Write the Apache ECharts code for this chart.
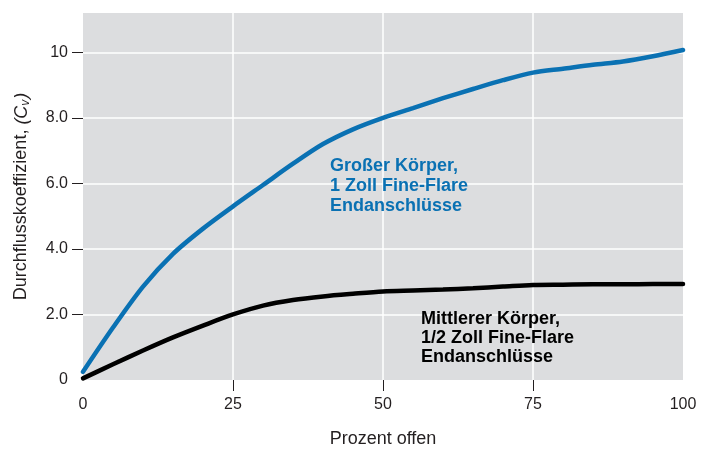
<!DOCTYPE html>
<html>
<head>
<meta charset="utf-8">
<script src="https://cdn.jsdelivr.net/npm/echarts@6/dist/echarts.min.js"></script>
<style>
html,body{margin:0;padding:0;background:#fff;}
#c{width:711px;height:449px;}
</style>
</head>
<body>
<div id="c"></div>
<script>
const percentOpen = [0, 5, 10, 15, 20, 25, 30, 35, 40, 45, 50, 55, 60, 65, 70, 75, 80, 85, 90, 95, 100];
const largeBodyCv = [0.25, 1.6, 2.85, 3.85, 4.62, 5.3, 5.95, 6.6, 7.2, 7.65, 8.0, 8.3, 8.6, 8.88, 9.15, 9.38, 9.5, 9.62, 9.72, 9.88, 10.07];
const mediumBodyCv = [0.05, 0.48, 0.9, 1.3, 1.66, 2.0, 2.27, 2.44, 2.55, 2.63, 2.7, 2.73, 2.76, 2.8, 2.85, 2.9, 2.91, 2.92, 2.92, 2.93, 2.93];
const xTickLabels = [0, 25, 50, 75, 100];
const yTickLabels = [0, 2, 4, 6, 8, 10];
const largeLabel = ['Großer Körper,', '1 Zoll Fine-Flare', 'Endanschlüsse'];
const mediumLabel = ['Mittlerer Körper,', '1/2 Zoll Fine-Flare', 'Endanschlüsse'];

const BLUE = '#0a71b3';
const FONT = '"Liberation Sans", Arial, Helvetica, sans-serif';
const chart = echarts.init(document.getElementById('c'));

chart.setOption({
  animation: false,
  textStyle: { fontFamily: FONT },
  grid: {
    left: 83, right: 28, top: 13, bottom: 69,
    outerBoundsMode: 'none', containLabel: false,
    show: true, backgroundColor: '#dcdddf', borderWidth: 0
  },
  xAxis: {
    type: 'value', min: 0, max: 100, interval: 25,
    name: 'Prozent offen', nameLocation: 'middle', nameGap: 50,
    nameTextStyle: { fontSize: 18, color: '#231f20', fontFamily: FONT },
    axisLine: { show: false },
    axisTick: { show: true, length: 11, inside: false, customValues: [25, 50, 75], lineStyle: { color: '#231f20', width: 1 } },
    axisLabel: { customValues: xTickLabels, fontSize: 16, color: '#231f20', margin: 17, fontFamily: FONT },
    splitLine: { show: true, lineStyle: { color: '#ffffff', width: 1.5 } }
  },
  yAxis: {
    type: 'value', min: 0, max: 11.2, interval: 2,
    name: '{n|Durchflusskoeffizient, }{i|(C}{s|v}{i|)}',
    nameLocation: 'middle', nameGap: 51, nameRotate: 90,
    nameTextStyle: {
      fontSize: 18, color: '#231f20', fontFamily: FONT,
      rich: {
        n: { fontSize: 18, color: '#231f20', fontFamily: FONT },
        i: { fontSize: 18, color: '#231f20', fontFamily: FONT, fontStyle: 'italic' },
        s: { fontSize: 12, color: '#231f20', fontFamily: FONT, fontStyle: 'italic', verticalAlign: 'bottom', padding: [9, 1, 0, 0] }
      }
    },
    axisLine: { show: false },
    axisTick: { show: true, length: 11, inside: false, customValues: [2, 4, 6, 8, 10], lineStyle: { color: '#231f20', width: 1 } },
    axisLabel: {
      customValues: yTickLabels, fontSize: 16, color: '#231f20', margin: 15, fontFamily: FONT,
      formatter: v => (v === 0 || v === 10) ? String(v) : v.toFixed(1)
    },
    splitLine: { show: true, lineStyle: { color: '#ffffff', width: 1.5 } }
  },
  series: [
    {
      type: 'line', name: 'large', smooth: 0.3, showSymbol: false,
      data: percentOpen.map((x, i) => [x, largeBodyCv[i]]),
      lineStyle: { color: BLUE, width: 4.5, cap: 'round' }, z: 3
    },
    {
      type: 'line', name: 'medium', smooth: 0.3, showSymbol: false,
      data: percentOpen.map((x, i) => [x, mediumBodyCv[i]]),
      lineStyle: { color: '#000000', width: 4.5, cap: 'round' }, z: 3
    }
  ],
  graphic: [
    {
      type: 'text', left: 330, top: 156, z: 10,
      style: { text: largeLabel.join('\n'), fill: BLUE, font: 'bold 18px ' + FONT, lineHeight: 20 }
    },
    {
      type: 'text', left: 421, top: 310, z: 10,
      style: { text: mediumLabel.join('\n'), fill: '#000000', font: 'bold 18px ' + FONT, lineHeight: 19 }
    }
  ]
});
</script>
</body>
</html>
